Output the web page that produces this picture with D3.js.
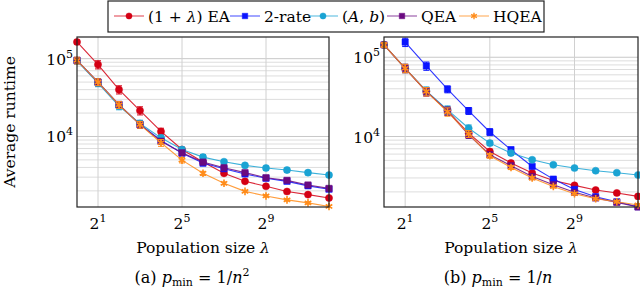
<!DOCTYPE html>
<html>
<head>
<meta charset="utf-8">
<script src="https://cdn.jsdelivr.net/npm/d3@7"></script>
<style>
  body { margin: 0; background: #fff; }
  svg { display: block; }
</style>
</head>
<body>
<svg id="chart" width="640" height="290"></svg>
<script>
// population sizes lambda = 2^0 .. 2^12
const lambdas = [1, 2, 4, 8, 16, 32, 64, 128, 256, 512, 1024, 2048, 4096];

// (a) p_min = 1/n^2
const eaA      = [164000, 84000, 40000, 21500, 11600, 6800, 4690, 3360, 2650, 2290, 1960, 1790, 1620];
const twoRateA = [95000, 50000, 25500, 14300, 8900, 6100, 4550, 3850, 3300, 2900, 2650, 2320, 2100];
const abA      = [94000, 48500, 24500, 14700, 9600, 6800, 5430, 4740, 4250, 3930, 3700, 3430, 3190];
const qeaA     = [95000, 50000, 25700, 14200, 8700, 6180, 4690, 3970, 3430, 2950, 2730, 2380, 2150];
const hqeaA    = [95000, 50000, 25500, 14200, 8300, 4970, 3360, 2500, 1970, 1720, 1530, 1400, 1260];

// (b) p_min = 1/n
const eaB      = [143000, 72600, 36900, 21100, 11000, 6470, 4630, 3460, 2790, 2420, 2110, 1940, 1755];
const twoRateB = [null, 155000, 77700, 39500, 21100, 11400, 6810, 4190, 2900, 2150, 1740, 1500, 1300];
const abB      = [143000, 72600, 37700, 21700, 12700, 8250, 6180, 5090, 4400, 4000, 3700, 3490, 3270];
const qeaB     = [143000, 72600, 37000, 21000, 10500, 5890, 4280, 3130, 2470, 1975, 1675, 1475, 1290];
const hqeaB    = [143000, 72600, 37000, 20500, 10800, 5710, 4070, 2990, 2340, 1900, 1640, 1505, 1370];

// relative half-width of the error bars
const errEaA   = [0.06, 0.12, 0.12, 0.12, 0.10, 0.05, 0.04, 0.03, 0.03, 0.03, 0.03, 0.03, 0.03];
const errMidA  = [0.09, 0.10, 0.10, 0.10, 0.08, 0.07, 0.08, 0.05, 0.04, 0.06, 0.06, 0.06, 0.06];
const errHqA   = [0.10, 0.10, 0.10, 0.10, 0.10, 0.08, 0.06, 0.04, 0.03, 0.03, 0.03, 0.03, 0.03];
const errTwoB  = [0, 0.12, 0.12, 0.10, 0.10, 0.10, 0.08, 0.05, 0.04, 0.04, 0.03, 0.03, 0.03];
const errMidB  = [0.07, 0.12, 0.12, 0.12, 0.10, 0.07, 0.06, 0.05, 0.04, 0.03, 0.03, 0.03, 0.03];

const seriesNames = ["(1 + λ) EA", "2-rate", "(A, b)", "QEA", "HQEA"];
const colors  = ["#d40014", "#0a14ff", "#1aa3d3", "#6a0a80", "#ff8c1a"];
const symbols = [d3.symbolCircle, d3.symbolSquare, d3.symbolCircle, d3.symbolSquare, d3.symbolAsterisk];
const xTicks = [2, 32, 512];

const svg = d3.select("#chart")
  .attr("font-family", "'DejaVu Serif', serif");
const fontSize = 15.5;
const supSize = 11;

function drawPanel(cfg) {
  const x = d3.scaleLog().base(2).domain([1, 4096]).range([cfg.left, cfg.right]);
  const y = d3.scaleLog().domain(cfg.yDomain).range([cfg.bottom, cfg.top]);
  const g = svg.append("g");

  // grid: minor + major y lines
  const yGrid = [];
  for (let e = 3; e <= 5; e++) {
    for (let m = 1; m <= 9; m++) {
      const v = m * Math.pow(10, e);
      if (v >= cfg.yDomain[0] && v <= cfg.yDomain[1]) yGrid.push(v);
    }
  }
  g.append("g").selectAll("line")
    .data(yGrid)
    .join("line")
    .attr("x1", cfg.left).attr("x2", cfg.right)
    .attr("y1", d => y(d)).attr("y2", d => y(d))
    .attr("stroke", d => (Math.log10(d) % 1 === 0) ? "#c8c8c8" : "#dddddd")
    .attr("stroke-width", 1);
  g.append("g").selectAll("line")
    .data(xTicks)
    .join("line")
    .attr("x1", d => x(d)).attr("x2", d => x(d))
    .attr("y1", cfg.top).attr("y2", cfg.bottom)
    .attr("stroke", "#d0d0d0");

  // series
  cfg.series.forEach((vals, i) => {
    const pts = lambdas.map((l, j) => ({ l, v: vals[j], e: cfg.errs[i][j] }))
      .filter(p => p.v != null);
    const line = d3.line().x(p => x(p.l)).y(p => y(p.v));
    g.append("path")
      .datum(pts)
      .attr("d", line)
      .attr("fill", "none")
      .attr("stroke", colors[i])
      .attr("stroke-opacity", 0.85)
      .attr("stroke-width", 1.1);

    const eb = g.append("g").attr("stroke", colors[i]).attr("stroke-width", 1);
    pts.filter(p => p.e > 0).forEach(p => {
      const cx = x(p.l), y1 = y(p.v * (1 + p.e)), y2 = y(p.v * (1 - p.e));
      eb.append("line").attr("x1", cx).attr("x2", cx).attr("y1", y1).attr("y2", y2);
      eb.append("line").attr("x1", cx - 3).attr("x2", cx + 3).attr("y1", y1).attr("y2", y1);
      eb.append("line").attr("x1", cx - 3).attr("x2", cx + 3).attr("y1", y2).attr("y2", y2);
    });

    const isStroke = symbols[i] === d3.symbolAsterisk;
    g.append("g").selectAll("path")
      .data(pts)
      .join("path")
      .attr("transform", p => `translate(${x(p.l)},${y(p.v)})`)
      .attr("d", d3.symbol().type(symbols[i]).size(40))
      .attr("fill", isStroke ? "none" : colors[i])
      .attr("stroke", colors[i])
      .attr("stroke-width", isStroke ? 1.6 : 0.5);
  });

  // frame
  g.append("rect")
    .attr("x", cfg.left).attr("y", cfg.top)
    .attr("width", cfg.right - cfg.left).attr("height", cfg.bottom - cfg.top)
    .attr("fill", "none").attr("stroke", "#222").attr("stroke-width", 1.2);

  // x tick labels 2^k
  xTicks.forEach(t => {
    const tx = g.append("text")
      .attr("x", x(t)).attr("y", 229)
      .attr("text-anchor", "middle")
      .attr("font-size", fontSize);
    tx.append("tspan").text("2");
    tx.append("tspan").attr("dy", -7).attr("font-size", supSize).text(Math.log2(t));
  });

  // y tick labels 10^k
  [1e4, 1e5].forEach(t => {
    const ty = g.append("text")
      .attr("x", cfg.left - 4).attr("y", y(t) + 6)
      .attr("text-anchor", "end")
      .attr("font-size", fontSize);
    ty.append("tspan").text("10");
    ty.append("tspan").attr("dy", -7).attr("font-size", supSize).text(Math.log10(t));
  });

  // x label
  const xl = g.append("text")
    .attr("x", (cfg.left + cfg.right) / 2).attr("y", 253)
    .attr("text-anchor", "middle")
    .attr("font-size", fontSize);
  xl.append("tspan").text("Population size ");
  xl.append("tspan").attr("font-style", "italic").text("λ");

  // caption
  const cap = g.append("text")
    .attr("x", cfg.captionX).attr("y", 283)
    .attr("text-anchor", "middle")
    .attr("font-size", 16);
  cap.append("tspan").text(cfg.caption + " ");
  cap.append("tspan").attr("font-style", "italic").text("p");
  cap.append("tspan").attr("dy", 3).attr("font-size", supSize).text("min");
  cap.append("tspan").attr("dy", -3).text(" = 1/");
  cap.append("tspan").attr("font-style", "italic").text("n");
  if (cfg.squared) cap.append("tspan").attr("dy", -7).attr("font-size", supSize).text("2");
}

drawPanel({
  left: 77, right: 329, top: 37, bottom: 207,
  yDomain: [1240, 190000],
  series: [eaA, twoRateA, abA, qeaA, hqeaA],
  errs: [errEaA, errMidA, errMidA, errMidA, errHqA],
  caption: "(a)", captionX: 192, squared: true
});

drawPanel({
  left: 384, right: 638, top: 37, bottom: 207,
  yDomain: [1290, 180000],
  series: [eaB, twoRateB, abB, qeaB, hqeaB],
  errs: [errMidB, errTwoB, errMidB, errMidB, errMidB],
  caption: "(b)", captionX: 498, squared: false
});

// y label
svg.append("text")
  .attr("transform", "translate(15,122) rotate(-90)")
  .attr("text-anchor", "middle")
  .attr("font-size", fontSize)
  .text("Average runtime");

// legend
const legend = svg.append("g");
legend.append("rect")
  .attr("x", 108).attr("y", 1).attr("width", 436).attr("height", 31)
  .attr("fill", "#fff").attr("stroke", "#222").attr("stroke-width", 1.2);
const legendX = [114, 230, 308, 387, 459];
seriesNames.forEach((name, i) => {
  const lx = legendX[i];
  legend.append("line")
    .attr("x1", lx).attr("x2", lx + 30).attr("y1", 16).attr("y2", 16)
    .attr("stroke", colors[i]).attr("stroke-opacity", 0.7).attr("stroke-width", 1.1);
  const isStroke = symbols[i] === d3.symbolAsterisk;
  legend.append("path")
    .attr("transform", `translate(${lx + 15},16)`)
    .attr("d", d3.symbol().type(symbols[i]).size(30))
    .attr("fill", isStroke ? "none" : colors[i])
    .attr("stroke", colors[i]).attr("stroke-width", isStroke ? 1.4 : 0.5);
  const t = legend.append("text")
    .attr("x", lx + 34).attr("y", 21.5)
    .attr("font-size", 15.5);
  if (i === 0) {
    t.append("tspan").text("(1 + ");
    t.append("tspan").attr("font-style", "italic").text("λ");
    t.append("tspan").text(") EA");
  } else if (i === 2) {
    t.append("tspan").text("(");
    t.append("tspan").attr("font-style", "italic").text("A");
    t.append("tspan").text(", ");
    t.append("tspan").attr("font-style", "italic").text("b");
    t.append("tspan").text(")");
  } else {
    t.text(name);
  }
});
</script>
</body>
</html>
